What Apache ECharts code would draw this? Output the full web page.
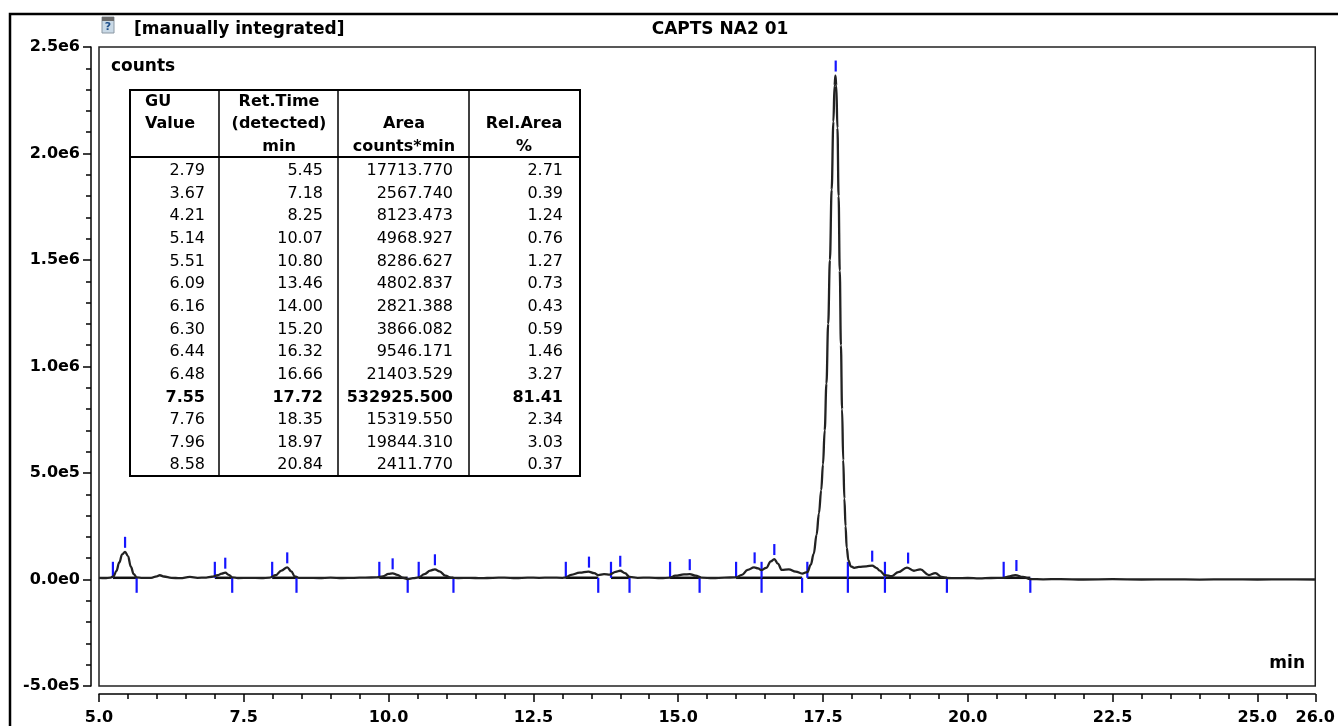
<!DOCTYPE html>
<html><head><meta charset="utf-8">
<script src="https://cdn.jsdelivr.net/npm/echarts@6/dist/echarts.min.js"></script>
<style>html,body{margin:0;padding:0;background:#fff}#c{width:1338px;height:726px}</style>
</head><body><div id="c"></div>
<script>
// ---- chromatogram trace (min, counts) ----
const times = [5.00,5.10,5.20,5.25,5.30,5.35,5.40,5.45,5.50,5.55,5.60,5.65,5.75,5.90,6.00,6.05,6.12,6.25,6.40,6.57,6.70,6.85,6.95,7.05,7.12,7.18,7.24,7.30,7.40,7.60,7.80,7.95,8.05,8.15,8.25,8.32,8.38,8.45,8.60,8.80,9.00,9.20,9.40,9.60,9.80,9.90,10.00,10.07,10.15,10.25,10.33,10.42,10.52,10.62,10.72,10.80,10.88,10.98,11.08,11.20,11.40,11.60,11.80,12.00,12.20,12.40,12.60,12.80,13.00,13.06,13.15,13.30,13.45,13.55,13.62,13.72,13.82,13.92,14.00,14.08,14.16,14.30,14.50,14.70,14.86,14.95,15.10,15.20,15.30,15.40,15.60,15.80,16.00,16.10,16.20,16.31,16.38,16.44,16.52,16.60,16.66,16.72,16.79,16.91,17.03,17.14,17.23,17.29,17.34,17.39,17.43,17.47,17.50,17.53,17.56,17.59,17.62,17.65,17.68,17.70,17.715,17.73,17.75,17.77,17.79,17.81,17.83,17.85,17.87,17.89,17.91,17.94,17.98,18.04,18.12,18.25,18.35,18.42,18.48,18.57,18.69,18.80,18.95,19.07,19.18,19.33,19.44,19.55,19.64,19.80,20.00,20.20,20.40,20.62,20.72,20.82,20.95,21.08,21.30,21.60,22.00,22.50,23.00,23.50,24.00,24.50,25.00,25.50,26.00];
const counts = [8000,7000,9000,14000,40000,80000,118000,130000,110000,60000,25000,10000,8000,8000,15000,20000,14000,8000,6000,12000,8000,9000,13000,20000,28000,32000,22000,10000,7000,8000,7000,9000,20000,42000,57000,38000,15000,8000,8000,7000,9000,7000,8000,9000,10000,15000,26000,29000,22000,8000,2000,6000,10000,25000,42000,48000,38000,18000,8000,7000,8000,6000,8000,9000,7000,9000,8000,9000,8000,9000,22000,32000,37000,30000,21000,25000,23000,36000,41000,30000,12000,8000,9000,7000,9000,18000,24000,25000,18000,9000,7000,9000,10000,22000,45000,57000,52000,44000,55000,85000,96000,75000,45000,48000,37000,28000,35000,70000,120000,210000,310000,420000,540000,700000,920000,1200000,1500000,1830000,2150000,2320000,2366000,2320000,2120000,1800000,1450000,1100000,800000,560000,380000,250000,150000,90000,62000,55000,59000,62000,65000,55000,42000,21000,16000,35000,56000,41000,48000,21000,30000,12000,7000,6000,7000,5000,7000,8000,15000,21000,12000,2000,1000,2000,0,1500,0,1000,-500,1000,0,1000,0];

// ---- axis ticks ----
const yTickValues = [-500000, 0, 500000, 1000000, 1500000, 2000000, 2500000];
const yTickLabels = ['-5.0e5', '0.0e0', '5.0e5', '1.0e6', '1.5e6', '2.0e6', '2.5e6'];

// ---- integration marks (start, apex, end, apex counts) ----
const peakStart = [5.24, 7.00, 7.99, 9.84, 10.52, 13.06, 13.84, 14.86, 16.00, 16.44, 17.23, 17.93, 18.57, 20.62];
const peakApex  = [5.45, 7.18, 8.25, 10.07, 10.80, 13.46, 14.00, 15.20, 16.32, 16.66, 17.72, 18.35, 18.97, 20.84];
const peakEnd   = [5.65, 7.30, 8.41, 10.33, 11.12, 13.62, 14.16, 15.37, 16.44, 17.14, 17.93, 18.57, 19.64, 21.08];
const peakTop   = [130000, 32000, 57000, 29000, 48000, 37000, 41000, 25000, 57000, 96000, 2366000, 65000, 56000, 21000];
const peakBase  = 8000;

// ---- peak table ----
const tableGU   = ['2.79','3.67','4.21','5.14','5.51','6.09','6.16','6.30','6.44','6.48','7.55','7.76','7.96','8.58'];
const tableRT   = ['5.45','7.18','8.25','10.07','10.80','13.46','14.00','15.20','16.32','16.66','17.72','18.35','18.97','20.84'];
const tableArea = ['17713.770','2567.740','8123.473','4968.927','8286.627','4802.837','2821.388','3866.082','9546.171','21403.529','532925.500','15319.550','19844.310','2411.770'];
const tableRel  = ['2.71','0.39','1.24','0.76','1.27','0.73','0.43','0.59','1.46','3.27','81.41','2.34','3.03','0.37'];
const boldRow = 10;

const FONT = "'DejaVu Sans', sans-serif";
const chart = echarts.init(document.getElementById('c'));

function txt(x, y, s, opt) {
  opt = opt || {};
  return {
    type: 'text', x: x, y: y, z: 20,
    style: {
      text: s, fill: '#000',
      font: (opt.bold ? 'bold ' : '') + (opt.size || 16) + 'px ' + FONT,
      textAlign: opt.align || 'left', textVerticalAlign: 'middle'
    }
  };
}
function ln(x1, y1, x2, y2, w, c) {
  return { type: 'line', z: 20, shape: { x1: x1, y1: y1, x2: x2, y2: y2 }, style: { stroke: c || '#000', lineWidth: w || 2 } };
}

const graphics = [];
// outer frame
graphics.push({ type: 'rect', z: 20, shape: { x: 10, y: 14, width: 1400, height: 800 }, style: { fill: null, stroke: '#000', lineWidth: 2.5 } });
// icon
graphics.push({ type: 'rect', z: 20, shape: { x: 102, y: 17, width: 12, height: 16 }, style: { fill: '#c9d9e6', stroke: '#8a97a3', lineWidth: 1 } });
graphics.push({ type: 'rect', z: 21, shape: { x: 102, y: 17, width: 12, height: 4 }, style: { fill: '#6b6b6b' } });
graphics.push({ type: 'text', z: 22, x: 108, y: 27, style: { text: '?', fill: '#1f4f8a', font: 'bold 11px ' + FONT, textAlign: 'center', textVerticalAlign: 'middle' } });
// titles
graphics.push(txt(134, 30, '[manually integrated]', { bold: true, size: 17 }));
graphics.push(txt(720, 30, 'CAPTS NA2 01', { bold: true, size: 17, align: 'center' }));
graphics.push(txt(111, 67, 'counts', { bold: true, size: 17 }));
graphics.push(txt(1305, 664, 'min', { bold: true, size: 17, align: 'right' }));

// table
const tL = 130, tR = 580, tT = 90, tB = 476, tH = 157;
const cols = [tL, 219, 338, 469, tR];
graphics.push({ type: 'rect', z: 19, shape: { x: tL, y: tT, width: tR - tL, height: tB - tT }, style: { fill: '#fff', stroke: '#000', lineWidth: 2 } });
for (let i = 1; i < 4; i++) graphics.push(ln(cols[i], tT, cols[i], tB, 1.5));
graphics.push(ln(tL, tH, tR, tH, 2));
const hy = [102, 124, 147];
graphics.push(txt(145, hy[0], 'GU', { bold: true }));
graphics.push(txt(145, hy[1], 'Value', { bold: true }));
graphics.push(txt(279, hy[0], 'Ret.Time', { bold: true, align: 'center' }));
graphics.push(txt(279, hy[1], '(detected)', { bold: true, align: 'center' }));
graphics.push(txt(279, hy[2], 'min', { bold: true, align: 'center' }));
graphics.push(txt(404, hy[1], 'Area', { bold: true, align: 'center' }));
graphics.push(txt(404, hy[2], 'counts*min', { bold: true, align: 'center' }));
graphics.push(txt(524, hy[1], 'Rel.Area', { bold: true, align: 'center' }));
graphics.push(txt(524, hy[2], '%', { bold: true, align: 'center' }));
const rightEdges = [205, 323, 453, 563];
for (let r = 0; r < tableGU.length; r++) {
  const y = 171 + r * 22.64;
  const b = r === boldRow;
  [tableGU, tableRT, tableArea, tableRel].forEach(function (col, c) {
    graphics.push(txt(rightEdges[c], y, col[r], { bold: b, align: 'right' }));
  });
}

const traceData = times.map(function (t, i) { return [t, counts[i]]; });
const markData = peakStart.map(function (s, i) { return [s, peakApex[i], peakEnd[i], peakTop[i]]; });

chart.setOption({
  animation: false,
  backgroundColor: '#fff',
  textStyle: { fontFamily: FONT },
  grid: { left: 99, right: 22, top: 47, bottom: 40, show: true, borderColor: '#222', borderWidth: 1.5, backgroundColor: '#fff' },
  xAxis: {
    type: 'value', min: 5, max: 26, interval: 2.5, offset: 8,
    axisLine: { show: true, onZero: false, lineStyle: { color: '#000', width: 1.5 } },
    axisTick: { show: true, length: 8, lineStyle: { color: '#000', width: 1.5 } },
    minorTick: { show: true, splitNumber: 5, length: 5, lineStyle: { color: '#000', width: 1.5 } },
    splitLine: { show: false },
    axisLabel: { show: true, color: '#000', fontWeight: 'bold', fontSize: 16, fontFamily: FONT, margin: 16,
      formatter: function (v) { return v.toFixed(1); } }
  },
  yAxis: {
    type: 'value', min: -500000, max: 2500000, interval: 500000, offset: 8,
    axisLine: { show: true, onZero: false, lineStyle: { color: '#000', width: 1.5 } },
    axisTick: { show: true, length: 8, lineStyle: { color: '#000', width: 1.5 } },
    minorTick: { show: true, splitNumber: 5, length: 5, lineStyle: { color: '#000', width: 1.5 } },
    splitLine: { show: false },
    axisLabel: { show: true, color: '#000', fontWeight: 'bold', fontSize: 16, fontFamily: FONT, margin: 11,
      formatter: function (v) {
        const i = yTickValues.indexOf(v);
        return i >= 0 ? yTickLabels[i] : '';
      } }
  },
  series: [
    {
      type: 'custom', z: 2,
      data: markData,
      renderItem: function (params, api) {
        const s = api.value(0), a = api.value(1), e = api.value(2), h = api.value(3);
        const ps = api.coord([s, peakBase]);
        const pa = api.coord([a, h]);
        const pe = api.coord([e, peakBase]);
        const blue = '#1515ff';
        return {
          type: 'group', children: [
            { type: 'line', shape: { x1: ps[0], y1: ps[1], x2: pe[0], y2: pe[1] }, style: { stroke: '#111', lineWidth: 2.5 } },
            { type: 'line', shape: { x1: ps[0], y1: ps[1] - 16, x2: ps[0], y2: ps[1] }, style: { stroke: blue, lineWidth: 2.2 } },
            { type: 'line', shape: { x1: pa[0], y1: pa[1] - 15, x2: pa[0], y2: pa[1] - 4 }, style: { stroke: blue, lineWidth: 2.2 } },
            { type: 'line', shape: { x1: pe[0], y1: pe[1], x2: pe[0], y2: pe[1] + 15 }, style: { stroke: blue, lineWidth: 2.2 } }
          ]
        };
      }
    },
    {
      type: 'line', z: 3, data: traceData, showSymbol: false, symbol: 'none',
      smooth: 0.4, smoothMonotone: 'x',
      lineStyle: { color: '#222', width: 2.3 }
    }
  ],
  graphic: graphics
});
</script>
</body></html>
